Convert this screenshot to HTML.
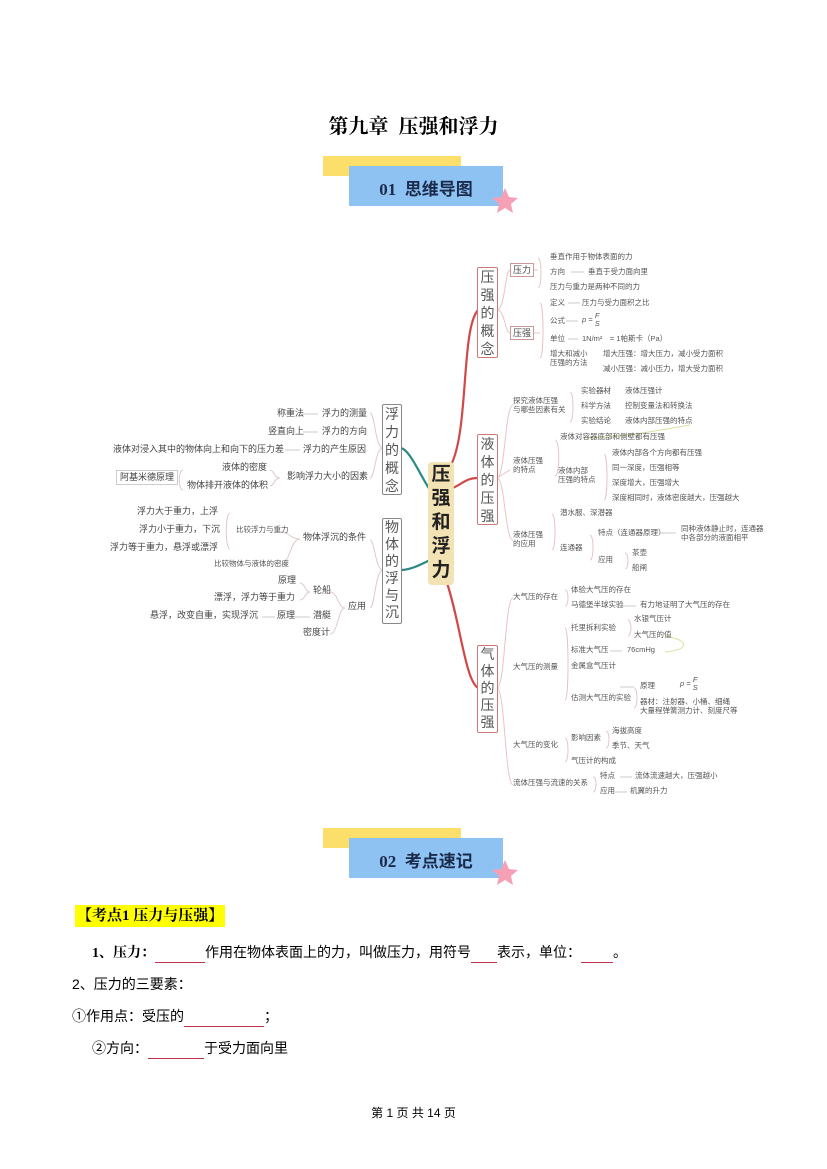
<!DOCTYPE html>
<html><head><meta charset="utf-8">
<style>
body{margin:0;background:#fff;}
#p{position:relative;width:827px;height:1169px;overflow:hidden;font-family:"Liberation Sans","Noto Sans CJK SC",sans-serif;color:#000;}
.a{position:absolute;white-space:nowrap;}
.t{position:absolute;white-space:nowrap;font-size:7.5px;color:#555;line-height:9px;}
.tl{position:absolute;white-space:nowrap;font-size:9px;color:#444;line-height:11px;}
.vb{position:absolute;border:1.5px solid #c77;border-radius:2px;font-size:14px;color:#555;text-align:center;line-height:18px;background:#fff;}
.vbl{border-color:#888;}
.sb{position:absolute;border:1px solid #c99;font-size:9px;color:#444;padding:0 2px;line-height:12px;}
.u{display:inline-block;border-bottom:1px solid #c0304a;}
</style></head><body><div id="p">

<div class="a" style="left:0;width:827px;top:110px;text-align:center;font-family:'Liberation Serif','Noto Serif CJK SC',serif;font-weight:bold;font-size:20px;">第九章&nbsp; 压强和浮力</div>

<!-- banner 1 -->
<div class="a" style="left:323px;top:156px;width:138px;height:20px;background:#fbdf6a;"></div>
<div class="a" style="left:349px;top:166px;width:154px;height:40px;background:#8ec2f3;"></div>
<div class="a" style="left:349px;top:175px;width:154px;text-align:center;font-weight:bold;font-size:17px;color:#1a2a4a;font-family:'Liberation Serif','Noto Sans CJK SC',sans-serif;">01&nbsp; 思维导图</div>
<svg class="a" style="left:490px;top:186px" width="30" height="30" viewBox="0 0 30 30"><polygon points="15,2 19,11 28,12 21,18 23,27 15,22 7,27 9,18 2,12 11,11" fill="#f4a1b6"/></svg>

<!-- banner 2 -->
<div class="a" style="left:323px;top:828px;width:138px;height:20px;background:#fbdf6a;"></div>
<div class="a" style="left:349px;top:838px;width:154px;height:40px;background:#8ec2f3;"></div>
<div class="a" style="left:349px;top:847px;width:154px;text-align:center;font-weight:bold;font-size:17px;color:#1a2a4a;font-family:'Liberation Serif','Noto Sans CJK SC',sans-serif;">02&nbsp; 考点速记</div>
<svg class="a" style="left:490px;top:858px" width="30" height="30" viewBox="0 0 30 30"><polygon points="15,2 19,11 28,12 21,18 23,27 15,22 7,27 9,18 2,12 11,11" fill="#f4a1b6"/></svg>

<!-- mind map lines -->
<svg class="a" style="left:0;top:0" width="827" height="830">
<g fill="none" stroke-width="2.2">
<path d="M448,470 C470,440 460,330 478,310" stroke="#d04848"/>
<path d="M448,490 C462,485 465,478 478,478" stroke="#d04848"/>
<path d="M446,580 C460,620 465,680 478,688" stroke="#d04848"/>
<path d="M430,490 C420,475 410,450 401,448" stroke="#2a8a86"/>
<path d="M430,560 C420,565 410,570 401,570" stroke="#2a8a86"/>
</g>
<g fill="none" stroke="#e8c4c4" stroke-width="1">
<path d="M497,310 C505,310 505,270 510,270"/><path d="M497,310 C505,310 505,333 510,333"/>
<path d="M533,270 L538,270 M538,258 C542,258 542,288 538,288"/>
<path d="M533,333 L540,333 M540,303 C544,303 544,358 540,358"/>
<path d="M497,478 C505,478 505,405 513,405"/><path d="M497,478 L510,470"/><path d="M497,478 C505,478 505,540 513,540"/>
<path d="M570,392 C574,392 574,422 570,422"/>
<path d="M555,440 C560,440 560,476 555,476"/>
<path d="M604,454 C608,454 608,500 604,500"/>
<path d="M552,514 C556,514 556,550 552,550"/>
<path d="M590,535 C594,535 594,560 590,560"/>
<path d="M625,553 C629,553 629,569 625,569"/>
<path d="M497,688 C505,688 505,598 513,598"/><path d="M497,688 C505,688 505,785 513,785"/>
<path d="M565,590 C569,590 569,606 565,606"/>
<path d="M565,628 C569,628 569,700 565,700"/>
<path d="M628,620 C632,620 632,636 628,636"/>
<path d="M634,688 C638,688 638,708 634,708"/>
<path d="M565,738 C569,738 569,762 565,762"/>
<path d="M606,731 C610,731 610,748 606,748"/>
<path d="M593,777 C597,777 597,792 593,792"/>
<path d="M586,438 C620,438 660,430 690,425" stroke="#dde0a0"/>
<path d="M665,636 C690,640 690,650 665,652" stroke="#dde0a0"/>
</g>
<g fill="none" stroke="#e0c8c8" stroke-width="1">
<path d="M383,448 C375,448 375,413 370,413"/><path d="M383,448 C375,448 375,478 370,478"/>
<path d="M383,570 C375,570 375,540 370,540"/><path d="M383,570 C375,570 375,608 370,608"/>
<path d="M280,478 C274,478 274,470 270,470 M280,478 C274,478 274,486 270,486"/>
<path d="M183,470 C178,470 178,490 183,490"/>
<path d="M300,539 C290,539 290,532 280,532 M300,539 C290,539 290,565 280,565"/>
<path d="M230,513 C225,513 225,549 230,549"/>
<path d="M345,608 C338,608 338,592 330,592 M345,608 C338,608 338,634 330,634"/>
<path d="M310,592 C305,592 305,583 300,583 M310,592 C305,592 305,600 300,600"/>
</g>
<g stroke="#bbb" stroke-width="0.8">
<path d="M303,414 L318,414 M303,432 L318,432 M285,450 L300,450 M262,617 L275,617 M295,617 L310,617"/>
<path d="M571,272 L584,272 M568,303 L580,303 M566,321 L578,321 M568,339 L578,339"/>
<path d="M600,391 L610,391 M600,406 L610,406 M600,421 L610,421 M660,533 L676,533 M620,606 L636,606 M610,651 L622,651 M620,687 L634,687 M620,777 L632,777 M615,792 L627,792"/>
</g>
</svg>

<!-- central -->
<div class="a" style="left:428px;top:462px;width:26px;height:122px;background:#f3e2b4;border-radius:4px;font-weight:bold;font-size:19px;line-height:24px;text-align:center;color:#222;padding-top:1px;">压<br>强<br>和<br>浮<br>力</div>

<div class="vb vbl" style="left:382px;top:404px;width:18px;height:89px;">浮<br>力<br>的<br>概<br>念</div>
<div class="vb vbl" style="left:382px;top:518px;width:18px;height:104px;line-height:17px;">物<br>体<br>的<br>浮<br>与<br>沉</div>
<div class="vb" style="left:477px;top:267px;width:19px;height:89px;">压<br>强<br>的<br>概<br>念</div>
<div class="vb" style="left:477px;top:434px;width:19px;height:89px;">液<br>体<br>的<br>压<br>强</div>
<div class="vb" style="left:477px;top:645px;width:19px;height:86px;line-height:17px;">气<br>体<br>的<br>压<br>强</div>

<!-- left texts -->
<div class="tl" style="left:277px;top:408px;">称重法</div>
<div class="tl" style="left:322px;top:408px;">浮力的测量</div>
<div class="tl" style="left:268px;top:426px;">竖直向上</div>
<div class="tl" style="left:322px;top:426px;">浮力的方向</div>
<div class="tl" style="left:113px;top:444px;">液体对浸入其中的物体向上和向下的压力差</div>
<div class="tl" style="left:303px;top:444px;">浮力的产生原因</div>
<div class="tl" style="left:222px;top:462px;">液体的密度</div>
<div class="tl" style="left:116px;top:470px;border:1px solid #ccc;padding:1px 3px;">阿基米德原理</div>
<div class="tl" style="left:187px;top:480px;">物体排开液体的体积</div>
<div class="tl" style="left:287px;top:471px;">影响浮力大小的因素</div>
<div class="tl" style="left:137px;top:506px;">浮力大于重力，上浮</div>
<div class="tl" style="left:139px;top:524px;">浮力小于重力，下沉</div>
<div class="tl" style="left:110px;top:542px;">浮力等于重力，悬浮或漂浮</div>
<div class="t" style="left:236px;top:525px;">比较浮力与重力</div>
<div class="tl" style="left:303px;top:532px;">物体浮沉的条件</div>
<div class="t" style="left:214px;top:559px;">比较物体与液体的密度</div>
<div class="tl" style="left:278px;top:575px;">原理</div>
<div class="tl" style="left:313px;top:585px;">轮船</div>
<div class="tl" style="left:214px;top:592px;">漂浮，浮力等于重力</div>
<div class="tl" style="left:150px;top:610px;">悬浮，改变自重，实现浮沉</div>
<div class="tl" style="left:277px;top:610px;">原理</div>
<div class="tl" style="left:313px;top:610px;">潜艇</div>
<div class="tl" style="left:303px;top:627px;">密度计</div>
<div class="tl" style="left:348px;top:601px;">应用</div>

<!-- right: pressure concept -->
<div class="sb" style="left:510px;top:263px;">压力</div>
<div class="sb" style="left:510px;top:326px;">压强</div>
<div class="t" style="left:550px;top:252px;">垂直作用于物体表面的力</div>
<div class="t" style="left:550px;top:267px;">方向</div><div class="t" style="left:588px;top:267px;">垂直于受力面向里</div>
<div class="t" style="left:550px;top:282px;">压力与重力是两种不同的力</div>
<div class="t" style="left:550px;top:298px;">定义</div><div class="t" style="left:582px;top:298px;">压力与受力面积之比</div>
<div class="t" style="left:550px;top:316px;">公式</div><div class="t" style="left:582px;top:312px;font-style:italic;">p = <span style="display:inline-block;vertical-align:middle;text-align:center;line-height:8px;">F<br>S</span></div>
<div class="t" style="left:550px;top:334px;">单位</div><div class="t" style="left:582px;top:334px;">1N/m²　= 1帕斯卡（Pa）</div>
<div class="t" style="left:550px;top:349px;">增大和减小<br>压强的方法</div>
<div class="t" style="left:603px;top:349px;">增大压强：增大压力，减小受力面积</div>
<div class="t" style="left:603px;top:364px;">减小压强：减小压力，增大受力面积</div>

<!-- liquid -->
<div class="t" style="left:513px;top:396px;">探究液体压强<br>与哪些因素有关</div>
<div class="t" style="left:581px;top:386px;">实验器材</div><div class="t" style="left:625px;top:386px;">液体压强计</div>
<div class="t" style="left:581px;top:401px;">科学方法</div><div class="t" style="left:625px;top:401px;">控制变量法和转换法</div>
<div class="t" style="left:581px;top:416px;">实验结论</div><div class="t" style="left:625px;top:416px;">液体内部压强的特点</div>
<div class="t" style="left:560px;top:432px;">液体对容器底部和侧壁都有压强</div>
<div class="t" style="left:513px;top:456px;">液体压强<br>的特点</div>
<div class="t" style="left:558px;top:466px;">液体内部<br>压强的特点</div>
<div class="t" style="left:612px;top:448px;">液体内部各个方向都有压强</div>
<div class="t" style="left:612px;top:463px;">同一深度，压强相等</div>
<div class="t" style="left:612px;top:478px;">深度增大，压强增大</div>
<div class="t" style="left:612px;top:493px;">深度相同时，液体密度越大，压强越大</div>
<div class="t" style="left:560px;top:508px;">潜水服、深潜器</div>
<div class="t" style="left:513px;top:530px;">液体压强<br>的应用</div>
<div class="t" style="left:560px;top:543px;">连通器</div>
<div class="t" style="left:598px;top:528px;">特点（连通器原理）</div>
<div class="t" style="left:681px;top:524px;">同种液体静止时，连通器<br>中各部分的液面相平</div>
<div class="t" style="left:598px;top:555px;">应用</div>
<div class="t" style="left:632px;top:548px;">茶壶</div>
<div class="t" style="left:632px;top:563px;">船闸</div>

<!-- gas -->
<div class="t" style="left:513px;top:592px;">大气压的存在</div>
<div class="t" style="left:571px;top:585px;">体验大气压的存在</div>
<div class="t" style="left:571px;top:600px;">马德堡半球实验</div>
<div class="t" style="left:640px;top:600px;">有力地证明了大气压的存在</div>
<div class="t" style="left:513px;top:662px;">大气压的测量</div>
<div class="t" style="left:571px;top:623px;">托里拆利实验</div>
<div class="t" style="left:634px;top:614px;">水银气压计</div>
<div class="t" style="left:634px;top:630px;">大气压的值</div>
<div class="t" style="left:571px;top:645px;">标准大气压</div><div class="t" style="left:627px;top:645px;">76cmHg</div>
<div class="t" style="left:571px;top:661px;">金属盒气压计</div>
<div class="t" style="left:571px;top:693px;">估测大气压的实验</div>
<div class="t" style="left:640px;top:681px;">原理</div><div class="t" style="left:680px;top:676px;font-style:italic;">p = <span style="display:inline-block;vertical-align:middle;text-align:center;line-height:8px;">F<br>S</span></div>
<div class="t" style="left:640px;top:697px;">器材：注射器、小桶、细绳<br>大量程弹簧测力计、刻度尺等</div>
<div class="t" style="left:513px;top:740px;">大气压的变化</div>
<div class="t" style="left:571px;top:733px;">影响因素</div>
<div class="t" style="left:612px;top:726px;">海拔高度</div>
<div class="t" style="left:612px;top:741px;">季节、天气</div>
<div class="t" style="left:571px;top:756px;">气压计的构成</div>
<div class="t" style="left:513px;top:778px;">流体压强与流速的关系</div>
<div class="t" style="left:600px;top:771px;">特点</div><div class="t" style="left:635px;top:771px;">流体流速越大，压强越小</div>
<div class="t" style="left:600px;top:786px;">应用</div><div class="t" style="left:630px;top:786px;">机翼的升力</div>

<!-- text section -->
<div class="a" style="left:75px;top:905px;background:#ffff00;font-weight:bold;font-size:15px;line-height:22px;padding:0 2px;font-family:'Liberation Serif','Noto Serif CJK SC',serif;">【考点1 压力与压强】</div>
<div class="a" style="left:92px;top:942px;font-size:14px;line-height:20px;"><b style="font-family:'Liberation Serif','Noto Serif CJK SC',serif;">1、压力：</b><span class="u" style="width:50px;">&nbsp;</span>作用在物体表面上的力，叫做压力，用符号<span class="u" style="width:26px;">&nbsp;</span>表示，单位：<span class="u" style="width:32px;">&nbsp;</span>。</div>
<div class="a" style="left:72px;top:974px;font-size:14px;line-height:20px;">2、压力的三要素：</div>
<div class="a" style="left:72px;top:1006px;font-size:14px;line-height:20px;">①作用点：受压的<span class="u" style="width:80px;">&nbsp;</span>；</div>
<div class="a" style="left:92px;top:1038px;font-size:14px;line-height:20px;">②方向：<span class="u" style="width:56px;">&nbsp;</span>于受力面向里</div>

<div class="a" style="left:0;width:827px;top:1104px;text-align:center;font-size:12px;">第 1 页 共 14 页</div>
</div></body></html>
